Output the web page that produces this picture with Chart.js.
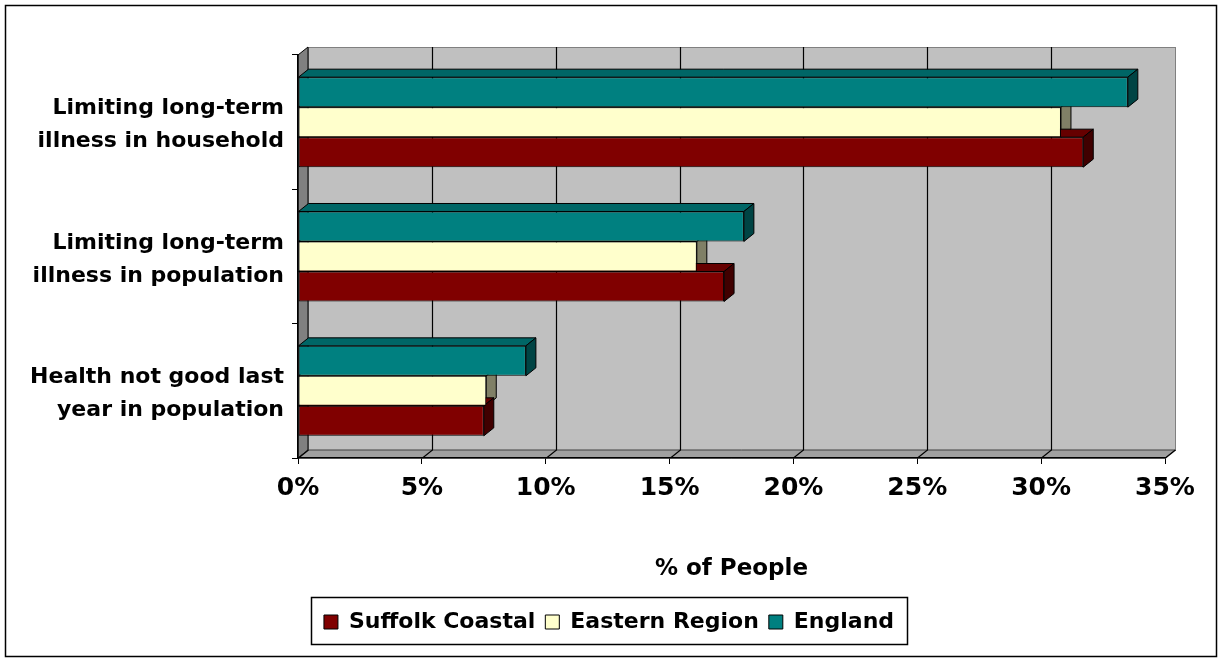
<!DOCTYPE html>
<html>
<head>
<meta charset="utf-8">
<script src="https://cdn.jsdelivr.net/npm/chart.js@4.4.1/dist/chart.umd.min.js"></script>
<style>
  html, body { margin: 0; padding: 0; background: #fff; }
  #wrap { width: 1218px; height: 662px; }
</style>
</head>
<body>
<div id="wrap"><canvas id="chart" width="1218" height="662"></canvas></div>
<script>
// categories, top to bottom
const categories = [
  ['Limiting long-term', 'illness in household'],
  ['Limiting long-term', 'illness in population'],
  ['Health not good last', 'year in population']
];
const englandValues = [33.5, 18.0, 9.2];
const easternValues = [30.8, 16.1, 7.6];
const suffolkValues = [31.7, 17.2, 7.5];
const xTicks = [0, 5, 10, 15, 20, 25, 30, 35];

const FONT = 'DejaVu Sans';
const DX = 10;  // depth offset of the 3D box, right
const DY = 8;   // depth offset of the 3D box, up

function poly(ctx, pts, fill, stroke) {
  ctx.beginPath();
  ctx.moveTo(pts[0][0], pts[0][1]);
  for (let i = 1; i < pts.length; i++) ctx.lineTo(pts[i][0], pts[i][1]);
  ctx.closePath();
  if (fill) { ctx.fillStyle = fill; ctx.fill(); }
  if (stroke) { ctx.strokeStyle = stroke; ctx.lineWidth = 1; ctx.stroke(); }
}

// walls, floor, back gridlines and bar depth faces
const box3d = {
  id: 'box3d',
  beforeDraw(chart) {
    const { ctx, chartArea: a } = chart;
    const x = chart.scales.x;
    ctx.save();
    ctx.fillStyle = '#fff';
    ctx.fillRect(0, 0, chart.width, chart.height);

    // back wall
    ctx.fillStyle = '#c0c0c0';
    ctx.fillRect(a.left + DX, a.top - DY, a.width, a.height);
    ctx.strokeStyle = '#808080';
    ctx.lineWidth = 1;
    ctx.strokeRect(a.left + DX + 0.5, a.top - DY + 0.5, a.width, a.height);

    // left wall and floor
    poly(ctx, [[a.left, a.top], [a.left + DX, a.top - DY], [a.left + DX, a.bottom - DY], [a.left, a.bottom]], '#808080', '#000');
    poly(ctx, [[a.left, a.bottom], [a.left + DX, a.bottom - DY], [a.right + DX, a.bottom - DY], [a.right, a.bottom]], '#a0a0a0', '#404040');

    // gridlines on back wall and floor
    ctx.strokeStyle = '#000';
    ctx.lineWidth = 1.2;
    xTicks.forEach((v, i) => {
      const px = Math.round(x.getPixelForValue(v)) + 0.5;
      ctx.beginPath();
      ctx.moveTo(px, a.bottom);
      ctx.lineTo(px + DX, a.bottom - DY);
      if (i > 0 && i < xTicks.length - 1) ctx.lineTo(px + DX, a.top - DY);
      ctx.stroke();
    });
    ctx.restore();
  },
  beforeDatasetsDraw(chart) {
    const ctx = chart.ctx;
    ctx.save();
    chart.data.datasets.forEach((ds, di) => {
      const meta = chart.getDatasetMeta(di);
      if (meta.hidden) return;
      meta.data.forEach(el => {
        const { x, y, base, height } = el.getProps(['x', 'y', 'base', 'height'], true);
        const top = y - height / 2, bottom = y + height / 2;
        const l = Math.min(x, base), r = Math.max(x, base);
        // top face
        poly(ctx, [[l, top], [l + DX, top - DY], [r + DX, top - DY], [r, top]], ds.topColor, '#000');
        // right side face
        poly(ctx, [[r, top], [r + DX, top - DY], [r + DX, bottom - DY], [r, bottom]], ds.sideColor, '#000');
      });
    });
    ctx.restore();
  },
  afterDraw(chart) {
    const ctx = chart.ctx;
    ctx.save();
    // frame round the legend
    const boxes = chart.legend.legendHitBoxes;
    if (boxes && boxes.length) {
      const left = Math.min(...boxes.map(b => b.left));
      const right = Math.max(...boxes.map(b => b.left + b.width));
      const top = Math.min(...boxes.map(b => b.top));
      const bottom = Math.max(...boxes.map(b => b.top + b.height));
      ctx.strokeStyle = '#000';
      ctx.lineWidth = 1.5;
      ctx.strokeRect(Math.round(left - 13) + 0.5, Math.round(top - 14) + 0.5,
        Math.round(right - left + 26), Math.round(bottom - top + 25));
    }
    // outer chart frame
    ctx.strokeStyle = '#000';
    ctx.lineWidth = 1.5;
    ctx.strokeRect(5.5, 5.5, 1211, 651);
    ctx.restore();
  }
};

new Chart(document.getElementById('chart'), {
  type: 'bar',
  data: {
    labels: categories,
    datasets: [
      {
        label: 'England',
        data: englandValues,
        backgroundColor: '#008080',
        topColor: '#006666',
        sideColor: '#004444'
      },
      {
        label: 'Eastern Region',
        data: easternValues,
        backgroundColor: '#ffffcc',
        topColor: '#cccca3',
        sideColor: '#808066'
      },
      {
        label: 'Suffolk Coastal',
        data: suffolkValues,
        backgroundColor: '#800000',
        topColor: '#660000',
        sideColor: '#400000'
      }
    ]
  },
  options: {
    indexAxis: 'y',
    responsive: false,
    animation: false,
    devicePixelRatio: 1,
    datasets: {
      bar: {
        borderColor: '#000',
        borderWidth: 1,
        borderSkipped: false,
        categoryPercentage: 0.67,
        barPercentage: 1.0
      }
    },
    layout: { padding: { top: 55, left: 0, right: 0, bottom: 19 } },
    plugins: {
      legend: {
        position: 'bottom',
        reverse: true,
        labels: {
          color: '#000',
          font: { family: FONT, size: 22, weight: 'bold' },
          boxWidth: 14,
          boxHeight: 14,
          padding: 10
        }
      },
      tooltip: { enabled: false }
    },
    scales: {
      x: {
        type: 'linear',
        min: 0,
        max: 35,
        afterBuildTicks: s => { s.ticks = xTicks.map(v => ({ value: v })); },
        afterFit: s => { s.height = 143; },
        grid: { drawOnChartArea: false, color: '#000', tickLength: 6, lineWidth: 1 },
        border: { color: '#000', width: 1.5 },
        ticks: {
          color: '#000',
          padding: 9,
          maxRotation: 0,
          font: { family: FONT, size: 25, weight: 'bold' },
          callback: v => v + '%'
        },
        title: {
          display: true,
          text: '% of People',
          color: '#000',
          font: { family: FONT, size: 23, weight: 'bold' },
          padding: { top: 0, bottom: 18 }
        }
      },
      y: {
        type: 'category',
        offset: true,
        afterFit: s => { s.width = 298; },
        grid: { offset: true, drawOnChartArea: false, color: '#000', tickLength: 6, lineWidth: 1 },
        border: { color: '#000', width: 1.5 },
        ticks: {
          color: '#000',
          padding: 8,
          labelOffset: 3,
          font: { family: FONT, size: 22, weight: 'bold', lineHeight: 1.5 }
        }
      },
      yRight: {
        type: 'linear',
        position: 'right',
        display: true,
        afterFit: s => { s.width = 53; },
        grid: { display: false },
        border: { display: false },
        ticks: { display: false }
      }
    }
  },
  plugins: [box3d]
});
</script>
</body>
</html>
